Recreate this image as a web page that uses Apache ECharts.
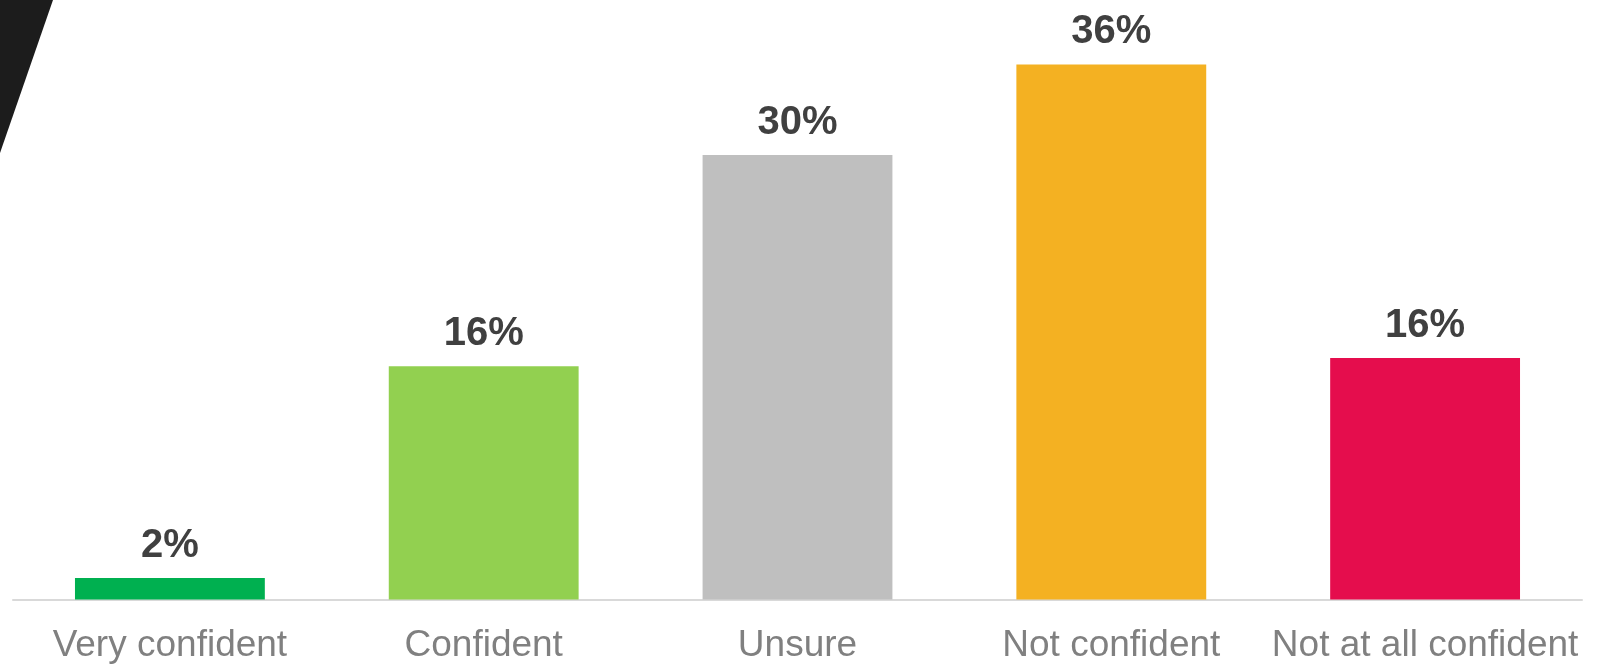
<!DOCTYPE html>
<html>
<head>
<meta charset="utf-8">
<script src="https://cdn.jsdelivr.net/npm/echarts@6/dist/echarts.min.js"></script>
<style>
  html, body { margin: 0; padding: 0; background: #fff; }
  #chart { width: 1604px; height: 664px; }
</style>
</head>
<body>
<div id="chart"></div>
<script>
// answer categories
var categories = ['Very confident', 'Confident', 'Unsure', 'Not confident', 'Not at all confident'];
// bar heights (percent)
var values = [1.45, 15.7, 29.9, 36, 16.25];
// printed labels above the bars
var valueLabels = ['2%', '16%', '30%', '36%', '16%'];
var barColors = ['#00b050', '#92d050', '#bfbfbf', '#f4b122', '#e50d4d'];

var myChart = echarts.init(document.getElementById('chart'));

var option = {
    animation: false,
    backgroundColor: '#fff',
    grid: {
        left: 13,
        right: 22,
        top: 5,
        bottom: 64.5,
        containLabel: false,
        outerBoundsMode: 'none'
    },
    graphic: [{
        // dark wedge in the top left corner
        type: 'polygon',
        shape: { points: [[0, 0], [53, 0], [0, 153]] },
        style: { fill: '#1c1c1c' },
        z: 10
    }],
    xAxis: {
        type: 'category',
        data: categories,
        axisLine: { lineStyle: { color: '#d9d9d9', width: 2 } },
        axisTick: { show: false },
        axisLabel: {
            interval: 0,
            hideOverlap: false,
            color: '#808080',
            fontFamily: 'Liberation Sans, Arial, sans-serif',
            fontSize: 37,
            margin: 28
        }
    },
    yAxis: {
        type: 'value',
        min: 0,
        max: 40,
        show: false,
        splitLine: { show: false }
    },
    series: [{
        type: 'bar',
        barWidth: '60.5%',
        data: values.map(function (v, i) {
            return { value: v, itemStyle: { color: barColors[i] } };
        }),
        label: {
            show: true,
            position: 'top',
            distance: 12,
            color: '#404040',
            fontWeight: 'bold',
            fontFamily: 'Liberation Sans, Arial, sans-serif',
            fontSize: 40,
            formatter: function (p) {
                return valueLabels[p.dataIndex];
            }
        }
    }]
};
myChart.setOption(option);
</script>
</body>
</html>
